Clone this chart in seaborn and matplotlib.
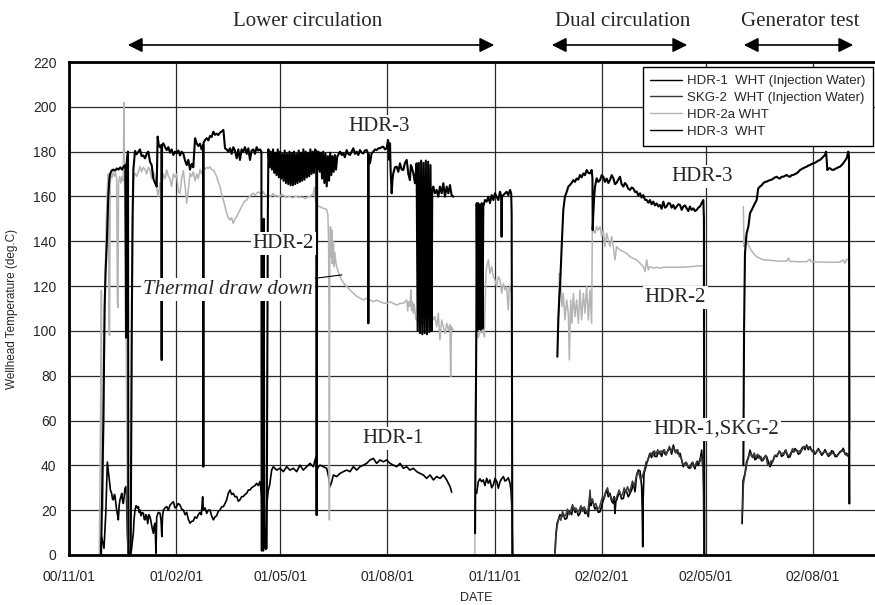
import numpy as np
import pandas as pd
import matplotlib
matplotlib.use('Agg')
import matplotlib.pyplot as plt
import matplotlib.dates as mdates
from matplotlib.lines import Line2D
from matplotlib.ticker import MultipleLocator
import seaborn as sns

# --- datos: (dias desde 2000-11-01, temperatura degC) ---
# (nan, nan) separa tramos sin registro
START = pd.Timestamp('2000-11-01')
GAP = (np.nan, np.nan)

hdr1 = [
    (26.5, 0.5), (28, 8), (30, 3), (31.5, 18), (32.9, 41.5), (34, 36), (34.6, 33.5), (35.5, 29),
    (36.6, 27.5), (37.3, 25), (38, 24.6), (39, 27), (39.5, 26), (40.4, 22), (40.9, 20), (41.6, 18),
    (42.3, 15.7), (43, 22), (43.7, 24.6), (44.5, 26), (45.2, 27.5), (46, 24), (46.6, 23), (47.3, 26),
    (48, 29.8), (48.9, 30.5), (49.3, 27), (50, 10), (50.5, 3.8), (51.5, 1), (52.3, 0.5), (53.5, 2),
    (55.2, 10), (55.8, 16), (56.6, 20), (57.5, 22), (58.5, 21), (59.5, 21.6), (60.2, 19), (60.9, 20),
    (61.8, 17.5), (62.7, 19), (63.8, 18.6), (64.5, 16), (65.2, 15.7), (65.9, 18), (66.6, 17.5),
    (67.5, 14), (68.5, 18), (69.5, 17), (70.3, 15), (71.3, 12), (72.3, 9.7), (73, 13), (73.8, 14.2),
    (74.6, 0.8), (75.2, 17), (76.6, 19), (78.1, 18.6), (79, 15), (79.6, 8.2), (80.2, 17), (80.9, 20),
    (82.3, 21), (83.8, 21.6), (85.2, 20), (86.6, 22.3), (88, 23), (89.5, 23.8), (90.9, 21),
    (92.3, 21.6), (93.7, 23), (95.2, 22.3), (96.6, 20.5), (98.1, 20.1), (99.5, 18), (100.9, 19),
    (102.3, 16), (103.8, 14.2), (105.2, 15), (106.6, 15.2), (108, 17), (109.5, 16.4), (110.9, 18),
    (112.3, 19), (113.5, 18), (114.6, 26), (115.2, 20), (116.6, 21), (118.1, 18.6), (119.5, 20),
    (120.9, 20.1), (122.3, 17.5), (123.8, 15.7), (125.2, 17), (126.6, 17.5), (128, 19.5),
    (129.5, 20.1), (130.9, 21.5), (132.4, 21.6), (133.8, 23), (135.2, 24.6), (136.6, 27.5),
    (138.1, 29), (139.5, 27), (140.9, 27.5), (142.3, 26), (143.8, 26.1), (145.2, 24), (146.6, 24.6),
    (148, 26), (149.5, 26.1), (150.9, 27), (152.4, 27.5), (153.8, 29), (155.2, 29), (156.6, 30),
    (158.1, 30.5), (159.5, 31), (160.9, 32), (162.3, 31), (163.8, 32.8), (164.5, 30), (165.2, 26),
    (165.8, 5), (166.5, 15), (167.2, 3), (168.1, 12), (168.8, 2.5), (169.5, 22), (170.9, 29),
    (172, 31), (173.8, 37.9), (175.2, 39.4), (178.1, 37.9), (181, 38.7), (183.8, 37.2), (186.7, 39.4),
    (189.5, 37.9), (192.4, 38.7), (195.2, 37.2), (198.1, 40.1), (200.9, 37.9), (203.8, 39.4),
    (206.7, 40.9), (209.5, 39.4), (211, 42.4), (212.1, 43.9), (212.4, 17.8), (212.7, 38),
    (213.8, 39.4), (215.3, 40.1), (218.1, 39.4), (221, 38.7), (222.6, 35), (223.8, 30.5),
    (225.3, 32.7), (226.7, 35.7), (229.6, 35), (232.4, 36.4), (235.3, 37.2), (238.1, 37.9),
    (241, 37.2), (243.8, 39.4), (246.7, 37.9), (249.6, 39.4), (252.4, 40.1), (255.3, 40.9),
    (258.1, 42.4), (261, 43.1), (263.8, 40.9), (266.7, 42.4), (269.6, 41.6), (272.4, 42.4),
    (275.3, 40.9), (278.2, 40.1), (281, 39.4), (283.9, 40.9), (286.7, 38.7), (289.6, 39.4),
    (292.4, 37.9), (295.3, 38.7), (298.2, 37.2), (301, 36.4), (303.9, 35.7), (306.7, 34.2),
    (309.6, 35.7), (312.5, 33.5), (315.3, 35), (318.2, 34.2), (321, 35.7), (323.9, 33.5),
    (326.8, 30.5), (328.2, 28),
    GAP,
    (349.6, 27.5), (351, 32.7), (352.4, 34), (353.9, 32.7), (355.3, 33.5), (356.7, 31), (358.2, 34.2),
    (359.6, 32), (361, 33.5), (362.5, 30), (363.9, 31.3), (365.3, 34.2), (366.7, 33), (368.2, 29.8),
    (369.6, 32.7), (371, 34), (372.5, 35), (373.9, 33), (375.3, 33.5), (376.7, 34.5), (378.2, 32),
    (379, 29), (379.6, 23), (380.5, 0),
    GAP,
    (416.8, 1), (417.5, 8), (418.5, 14), (419.6, 15.6), (421, 18), (422.5, 17), (423.9, 18.6),
    (425.3, 16), (426.8, 16.3), (428.2, 19.5), (429.6, 19.3), (431, 18), (432.5, 21.6), (434, 19),
    (435.4, 20.1), (436.8, 17.5), (438.2, 18.6), (439.6, 21), (441.1, 20.8), (442.5, 18.5),
    (443.9, 19.3), (445.4, 17.1), (446.8, 27.5), (447.5, 22), (448.2, 24.5), (449.6, 23), (451, 20.5),
    (452.5, 21.6), (453.9, 19), (455.4, 19.3), (456.8, 22), (458.2, 24.5), (459.6, 27), (461.1, 29),
    (462.5, 26), (463.9, 27.5), (465.4, 24), (466.8, 23), (467.5, 26), (468.2, 18.6), (469, 24),
    (469.7, 24.5), (471.1, 27), (472.5, 27.5), (473.9, 25), (475.4, 25.3), (476.8, 28.5),
    (478.2, 28.2), (479.6, 26), (481.1, 27.5), (482.5, 29), (483.9, 32), (485.4, 28.2), (486.8, 35.7),
    (488.2, 37.9), (489.7, 37.5), (491.1, 30.5), (491.6, 20), (492, 3.7), (492.4, 25), (493.1, 36.4),
    (494.3, 38.5), (495.4, 40.9), (496.8, 43), (498.2, 45.4), (499.6, 43.5), (501.1, 46.1), (502.5, 44),
    (504, 43.9), (505.4, 46), (506.8, 46.1), (508.2, 44), (509.7, 46.8), (511.1, 45), (512.5, 45.4),
    (514, 47), (515.4, 47.6), (516.8, 45), (518.3, 49.1), (519.7, 46), (521.1, 46.8), (522.5, 45),
    (524, 45.4), (525.4, 42.4), (526.8, 39.4), (528.2, 41), (529.7, 40.9), (531.1, 39), (532.5, 38.7),
    (534, 41), (535.4, 40.1), (536.8, 38.5), (538.3, 41.6), (539.7, 40), (541.1, 42.4), (542.6, 46.8),
    (543.3, 40), (544, 39.4), (544.6, 0.7), (545.2, 0.5),
    GAP,
    (577.2, 14), (578, 33), (579.7, 36.4), (581.1, 41.6), (582.5, 43), (584, 46.8), (585.5, 44),
    (586.9, 44.6), (588.3, 42.5), (589.7, 43.1), (591.1, 44.5), (592.6, 43.9), (594, 42), (595.4, 42.4),
    (596.8, 44), (598.3, 43.9), (599.7, 41.5), (601.2, 39.4), (602.6, 41), (604, 42.4), (605.5, 44.5),
    (606.9, 43.9), (608.3, 45.5), (609.7, 46.1), (611.1, 44), (612.6, 44.6), (614, 46.5), (615.4, 45.4),
    (616.8, 43.5), (618.3, 43.9), (619.7, 46), (621.2, 46.1), (622.6, 47.5), (624, 46.8), (625.5, 45),
    (626.9, 45.4), (628.3, 47.5), (629.7, 48.3), (631.1, 47), (632.6, 49.1), (634, 47), (635.5, 48.3),
    (636.9, 46.5), (638.3, 46.8), (639.7, 45), (641.2, 46.1), (642.6, 47.5), (644, 46.1), (645.5, 44.5),
    (646.9, 45.4), (648.3, 47), (649.8, 45.4), (651.2, 44), (652.6, 44.6), (654, 46.5), (655.5, 46.1),
    (656.9, 44), (658.3, 43.9), (659.7, 45), (661.2, 46.1), (662.6, 46.5), (664, 47.6), (665.5, 45),
    (666.9, 45.4), (668.3, 43.9), (669, 45), (669.2, 23),
]

skg2 = [
    (416.8, 0.5), (417.6, 10), (418.8, 13.5), (420.2, 17), (421.8, 15.5), (423.2, 19.5), (424.6, 17),
    (426.1, 18), (427.5, 20.5), (429, 18), (430.4, 20), (431.8, 22.5), (433.2, 20), (434.7, 21),
    (436.1, 19), (437.5, 20), (439, 22), (440.4, 19.5), (441.8, 21.5), (443.2, 20), (444.7, 18.5),
    (446.1, 24), (446.8, 29), (447.5, 23.5), (448.9, 25), (450.3, 22), (451.8, 23), (453.2, 20.5),
    (454.7, 21), (456.1, 23.5), (457.5, 26), (459, 25), (460.4, 28.5), (461.8, 30), (463.2, 27),
    (464.7, 26), (466.1, 24.5), (467.5, 25.5), (469, 25), (470.4, 27), (471.8, 29), (473.2, 26.5),
    (474.7, 27), (476.1, 30), (477.5, 28), (479, 30.5), (480.4, 28), (481.8, 30), (483.2, 33),
    (484.7, 30.5), (486.1, 34), (487.5, 37), (489, 36), (490.4, 33), (491.8, 35.5), (493.5, 38),
    (494.9, 41.5), (496.3, 42), (497.7, 44.5), (499.2, 45.5), (500.6, 44), (502, 46.5), (503.4, 45),
    (504.9, 47), (506.3, 45), (507.7, 46.5), (509.2, 45.5), (510.6, 47), (512, 44.5), (513.4, 46.5),
    (514.9, 48.5), (516.3, 46), (517.7, 48), (519.2, 47), (520.6, 45.5), (522, 47), (523.4, 44),
    (524.9, 43.5), (526.3, 40.5), (527.7, 40), (529.2, 41.5), (530.6, 39.5), (532, 40), (533.4, 39),
    (534.9, 41.5), (536.3, 39.5), (537.7, 40.5), (539.2, 42), (540.6, 41), (542, 44), (543.5, 41.5),
    (544.3, 30), (544.8, 0.5),
    GAP,
    (577.5, 18), (578.4, 32), (580.4, 38), (581.8, 42.5), (583.3, 45), (584.7, 45.5), (586.1, 43.5),
    (587.6, 45.5), (589, 43.5), (590.4, 45), (591.9, 43), (593.3, 44), (594.7, 42.5), (596.2, 43.5),
    (597.6, 44.5), (599, 40.5), (600.5, 40), (601.9, 42), (603.3, 41.5), (604.8, 44), (606.2, 44.5),
    (607.6, 44.5), (609, 46.5), (610.5, 45), (611.9, 45.5), (613.3, 45), (614.8, 47), (616.2, 44.5),
    (617.6, 44.5), (619.1, 45.5), (620.5, 47.5), (621.9, 46), (623.4, 47), (624.8, 46), (626.2, 46.5),
    (627.7, 46), (629.1, 47.5), (630.5, 48.5), (632, 48), (633.4, 48.5), (634.8, 47.5), (636.3, 47.5),
    (637.7, 46), (639.1, 46), (640.6, 45.5), (642, 47), (643.4, 46.5), (644.9, 45.5), (646.3, 45.5),
    (647.7, 46), (649.2, 46), (650.6, 44.5), (652, 45.5), (653.4, 45), (654.9, 45.5), (656.3, 45),
    (657.7, 44.5), (659.2, 44.5), (660.6, 45.5), (662, 46), (663.4, 46.5), (664.9, 46), (666.3, 44.5),
    (667.7, 45), (668.9, 44), (669.2, 23),
]

hdr2a = [
    (26, 0), (27, 60), (27.8, 118), (28.3, 40), (29, 20), (30, 80), (31, 120), (32, 150), (33, 165),
    (33.7, 170), (34.3, 100), (34.8, 98), (35.3, 165), (36, 170), (37, 168.5), (38, 171), (39, 169),
    (40, 170.5), (40.9, 168), (41.5, 112), (42, 110.5), (42.5, 166), (43.5, 169), (44.5, 166),
    (45.5, 168.8), (46.5, 167), (47.2, 202), (47.6, 165), (48.5, 140), (49.5, 60), (50.5, 0),
    (52.5, 0), (53.5, 60), (54.5, 140), (55.5, 168), (56.6, 170.3), (58, 169), (59.5, 171),
    (60.9, 173.3), (62.3, 171), (63.7, 173), (65.2, 172), (66.6, 170), (68, 173), (69.5, 171.8),
    (70.9, 168), (72.3, 171), (73.8, 169), (75.2, 164), (76.6, 160), (78, 166), (78.8, 164), (79.2, 88),
    (79.6, 165), (80.9, 170), (82.4, 168), (83.8, 171.8), (85.2, 169), (86.6, 168), (88, 164.4),
    (89.5, 170), (90.9, 168.5), (92.3, 170), (93.8, 162), (95.2, 161.4), (96.6, 168), (98.1, 171.5),
    (99.5, 165), (100.9, 157), (102.3, 163), (103.8, 170.3), (105.2, 169), (106.6, 171), (108.1, 167),
    (109.5, 170), (110.9, 168), (112.3, 172), (113.8, 170), (115.2, 173.3), (116.6, 172), (118.1, 173),
    (119.5, 172.5), (120.9, 173.3), (122.3, 172), (123.8, 171.8), (125.2, 170.5), (126.6, 168.8),
    (128, 166.5), (129.5, 164.4), (130.9, 161), (132.4, 158.4), (133.8, 155.5), (135.2, 152.5),
    (136.6, 150.5), (138.1, 149.5), (139.5, 150.5), (140.9, 148), (142.3, 150), (143.8, 151),
    (145.2, 152.5), (146.6, 154), (148, 155.5), (149.5, 156.9), (150.9, 158), (152.4, 158.4),
    (153.8, 159.5), (155.2, 160), (156.6, 161), (158.1, 161.4), (159.5, 160.5), (160.9, 161.4),
    (162.3, 162), (163.8, 161.4), (165.2, 161.4), (166.7, 162.1), (168.1, 160.5), (169.5, 160.5),
    (170.9, 161), (172.4, 160), (173.8, 160.5), (175.2, 161.4), (176.6, 160), (178.1, 160.5),
    (179.5, 160), (181, 160), (182.4, 161), (183.8, 160.5), (185.2, 160), (186.7, 159.5), (188.1, 160),
    (189.5, 160), (191, 159.5), (192.4, 159.5), (193.8, 160), (195.2, 160), (196.7, 159.5),
    (198.1, 159.9), (199.5, 159.5), (200.9, 159.7), (202.3, 159), (203.8, 159.3), (205.2, 160),
    (206.7, 159.9), (208.1, 160.6), (209.5, 161), (210.5, 164), (211.5, 158), (212.4, 157),
    (213.8, 155.5), (215.3, 155.5), (216.7, 155), (218.1, 154.7), (219.5, 154.5), (221, 154),
    (222, 152), (222.6, 140), (223, 110), (223.3, 15.6), (223.6, 130), (224.2, 146.5), (224.8, 133),
    (225.3, 145), (225.8, 130), (226.7, 140), (227.4, 128.7), (228, 135), (229, 130), (229.6, 128.7),
    (230.5, 127), (232.4, 124.2), (235.2, 121.5), (238.1, 119.8), (241, 118.3), (243.8, 116.8),
    (246.7, 115.5), (249.5, 114.6), (252.4, 113.8), (255.3, 114.6), (258.1, 113.8), (261, 113),
    (263.8, 113.8), (266.7, 113), (269.5, 112.5), (272.4, 112.3), (275.3, 113), (278.1, 112.3),
    (281, 111.5), (283.8, 112.3), (286.7, 112.3), (289.6, 113.8), (290.5, 109), (291.2, 113),
    (292.4, 110.8), (293.2, 118.3), (293.8, 109), (294.5, 113), (295.3, 107.9), (296, 112),
    (296.7, 109), (297.5, 105), (298.1, 104.9), (300, 104), (302, 103), (304, 104), (306, 102),
    (308, 103), (310, 101), (311, 107.9), (312.4, 104.9), (313.8, 106.4), (315.3, 101.9), (316.7, 107.9),
    (318.1, 96), (319.6, 104.9), (321, 101.9), (322.4, 98.9), (323.9, 103.4), (325.3, 100.4),
    (326.7, 103), (327.3, 79.6), (327.9, 102), (328.6, 101), (329.6, 100.4),
    GAP,
    (348, 0), (348.6, 60), (349.3, 100.4), (351, 97), (352.4, 100), (353.9, 99), (355.3, 100.4),
    (356.3, 97.4), (356.7, 110), (357.5, 125), (358.2, 128.7), (359.6, 131.7), (361, 125.6),
    (362.5, 128.7), (363.9, 124.2), (365.3, 122.7), (366.7, 119.8), (368.2, 124.2), (369.6, 122.7),
    (371, 116.8), (372.5, 121.2), (373.9, 118.3), (375.3, 119.8), (376.7, 109.3), (377.5, 119),
    (378.2, 119.8), (379.6, 116.8), (380.2, 0),
    GAP,
    (419.6, 102), (420.5, 125.7), (421.6, 121.2), (422.8, 110.8), (423.9, 116.8), (425.3, 104.9),
    (426.8, 113.8), (428.2, 107.9), (429.1, 87), (430.2, 113.8), (431.3, 103.4), (432.5, 116.8),
    (433.9, 106.4), (435.3, 113.8), (436.8, 103.4), (438.2, 118.3), (439.6, 104.9), (441.1, 116.8),
    (442.5, 107.9), (443.9, 119.8), (445.4, 104.9), (446.8, 118.3), (448.2, 103.4), (448.8, 146.5),
    (449.6, 145), (451.1, 143.6), (452.5, 146.5), (453.9, 145), (455.4, 146.5), (456.8, 142.1),
    (458.2, 145), (459.6, 137.6), (461.1, 143.6), (462.5, 140.6), (463.9, 137.6), (465.4, 142.1),
    (466.8, 137.6), (468.2, 131.7), (469.6, 137.6), (472.5, 136.1), (475.4, 135.4), (478.2, 134.6),
    (481.1, 133.1), (483.9, 132.4), (486.8, 131.7), (489.7, 130.2), (492.5, 128.7), (494, 126.5),
    (495.4, 131.7), (496.8, 127.2), (498.2, 128.7), (501.1, 128), (504, 128.4), (506.8, 128),
    (509.7, 128.4), (512.5, 128.4), (515.4, 128.4), (518.2, 128.4), (521.1, 128.4), (524, 128.4),
    (526.8, 128.5), (529.7, 128.5), (532.5, 128.7), (535.4, 128.7), (538.3, 129), (541.1, 129),
    (544, 129), (544.6, 60), (544.9, 0),
    GAP,
    (578.3, 155.5), (578.9, 137.6), (579.7, 142.1), (581.1, 139.8), (582.6, 138.5), (584, 136.9),
    (586.9, 134.6), (589.7, 133.1), (592.6, 132.4), (595.4, 131.7), (598.3, 131.7), (601.2, 131.5),
    (604, 131.4), (606.9, 131.2), (609.7, 131.1), (612.6, 131.2), (615.4, 131.1), (616.9, 132.5),
    (618.3, 131), (621.2, 131), (624, 130.9), (626.9, 130.9), (629.7, 130.9), (632.6, 130.9),
    (635.5, 132), (636.5, 130.8), (638.3, 130.9), (641.2, 130.8), (644, 130.7), (646.9, 130.7),
    (649.8, 130.6), (652.6, 130.7), (655.5, 130.6), (658.3, 130.7), (661.2, 130.7), (664, 131.7),
    (665.5, 130.2), (666.9, 132), (668.3, 131.7), (669.2, 131), (669.8, 55.8),
]

hdr3 = [
    (27.5, 0), (29.5, 60), (30.5, 110), (31.4, 127), (32.5, 140), (33.7, 160), (34.5, 167), (35.2, 170),
    (36.5, 171.5), (38, 172), (39.5, 171.5), (41, 172.5), (42.5, 172), (44, 173), (45.5, 172),
    (47, 173.5), (48.3, 174), (48.9, 97), (49.3, 174), (50, 178), (50.6, 180), (50.9, 0), (52.9, 0),
    (53.8, 100), (54.5, 150), (55.2, 172), (56.6, 180.3), (58, 178.8), (59.5, 180), (60.9, 181),
    (62.3, 178), (63.7, 178.3), (65.2, 177), (66.6, 179), (68, 180), (69.5, 175.4), (70.9, 174),
    (72.3, 168), (73.8, 166), (75.2, 164.4), (76, 186.7), (77, 183), (78, 182), (79.2, 183), (79.5, 87),
    (79.8, 183), (80.9, 183.7), (82.4, 182), (83.8, 180.7), (85.2, 182), (86.6, 179.5), (88, 181),
    (89.5, 178.5), (90.9, 180), (92.3, 179.2), (93.8, 180.5), (95.2, 178.3), (96.6, 180), (98.1, 179),
    (99.5, 176), (100.9, 174), (102.3, 176.3), (103.8, 172), (105.2, 174.5), (106.6, 173), (108.1, 186),
    (109.5, 183.7), (110.9, 182.5), (112.3, 183.5), (113.7, 181), (115, 183), (115.2, 39.4),
    (115.4, 184), (116.7, 185.2), (118.1, 186), (119.5, 185), (120.9, 187), (122.3, 186.5),
    (123.8, 188.9), (125.2, 187.5), (126.6, 188), (128, 187.4), (129.5, 188.5), (130.9, 189),
    (132.4, 189.7), (133.8, 181.5), (135.2, 181), (136.6, 180), (138.1, 181.5), (139.5, 179),
    (140.9, 182), (142.3, 180.5), (143.8, 177), (145.2, 181), (146.6, 176.3), (148, 181), (149.5, 180),
    (150.9, 182), (152.4, 179), (153.8, 181.5), (155.2, 176.3), (156.6, 180.5), (158.1, 181),
    (159.5, 179), (160.9, 182), (162.3, 180.5), (163.8, 181), (165, 180), (165.2, 2), (166.7, 2),
    (167, 150), (167.5, 5), (169.5, 3), (170.5, 150), (171, 181),
    (172, 173), (173, 180), (174, 172), (175, 181), (176, 170.5), (177, 179.5), (178, 169.5), (179, 181),
    (180, 168.5), (181, 180), (182, 168), (183, 179), (184, 167), (185, 180.5), (186, 166), (187, 179),
    (188, 165.5), (189, 180), (190, 165), (191, 179.5), (192, 165), (193, 180), (194, 165.5), (195, 179),
    (196, 166), (197, 180.5), (198, 166.5), (199, 179.5), (200, 167), (201, 181), (202, 167.5),
    (203, 180), (204, 168.5), (205, 179.5), (206, 169), (207, 181), (208, 170), (209, 180), (210, 170.5),
    (211, 181), (212, 180), (212.4, 17.8), (212.8, 180),
    (213, 172), (214, 180), (215, 171), (216, 179.5), (217, 168), (218, 180), (219, 166), (220, 179),
    (221, 164.5), (222, 178), (223, 167), (224, 179.5), (225, 169.5), (226, 178), (227, 171),
    (228, 178.5), (229, 172), (230, 177.8),
    (232.4, 180), (233.8, 178.5), (235.2, 179.2), (236.6, 177.5), (238.1, 180.7), (239.5, 179),
    (241, 178.5), (242.4, 180), (243.8, 181.5), (245.3, 179), (246.7, 180), (248.1, 178.5),
    (249.5, 180.7), (251, 179.5), (252.4, 179.2), (253.8, 180.5), (255.3, 180.7), (256.5, 179),
    (256.7, 103.4), (256.9, 179), (258.1, 174.8), (259.5, 179.2), (261, 180), (262.4, 181),
    (263.8, 180.7), (265.3, 181.5), (266.7, 181.5), (268.1, 182), (269.5, 182.2), (271, 181),
    (272.4, 181.5), (273.6, 185.2), (274.2, 183), (274.7, 176.3), (275.3, 183.7), (275.8, 171.8),
    (276.7, 161.4), (277.5, 168), (278.1, 170.3), (279.5, 173), (281, 173.3), (282.4, 171),
    (283.8, 174.8), (285.3, 172), (286.7, 171.8), (288.1, 175), (289.6, 176.3), (291, 170),
    (292.4, 167.3), (293.1, 174), (293.8, 173.3), (295.3, 170.3), (296.7, 165.9), (298.1, 174.8),
    (299, 100), (300, 175), (301, 99), (302, 176), (303, 98.5), (304, 175), (305, 99), (306, 176),
    (307, 98.5), (308, 175.5), (309, 99.5), (310, 174), (311, 100),
    (311.5, 162.9), (312.4, 164.4), (313.8, 161.4), (315.3, 162.9), (316.7, 159.9), (318.1, 164.4),
    (319.6, 161.4), (321, 165.9), (322.4, 159.9), (323.9, 164.4), (325.3, 161.4), (326.7, 165.1),
    (328.1, 160.6), (329.6, 159.9),
    GAP,
    (348.2, 9.7), (348.8, 60), (349.3, 100), (349.6, 157), (350.3, 100.4), (351, 157), (351.7, 101),
    (352.4, 156), (353.1, 100.5), (353.9, 157), (354.6, 101), (355.3, 155.5), (356.7, 158.4),
    (358.2, 157.7), (359.6, 159.9), (361, 157), (362.5, 160.6), (363.9, 158.4), (365.3, 161.4),
    (366.7, 159.9), (368.2, 158.4), (369.6, 162.1), (370.8, 160), (371, 142), (371.2, 160),
    (372.5, 160.6), (373.9, 161.4), (375.3, 162.1), (376.7, 160.6), (378.2, 162.9), (379.2, 161.5),
    (379.6, 152.5), (380.2, 0),
    GAP,
    (418.8, 88.5), (419.6, 105), (420.5, 115), (421.1, 119.8), (422.5, 137.6), (423.9, 154),
    (425.3, 159.9), (426.8, 162), (428.2, 164.4), (429.6, 165.1), (431, 166), (432.5, 167.3),
    (433.9, 166.5), (435.3, 168), (436.8, 167.5), (438.2, 169.6), (439.6, 168.5), (441.1, 170.3),
    (442.5, 169.5), (443.9, 171.8), (445.4, 170.5), (446.8, 170.3), (448.2, 171.8), (448.9, 168),
    (449.1, 145), (449.6, 152), (450.2, 158.4), (451.1, 164.4), (452.5, 168.1), (453.9, 166.5),
    (455.4, 167.3), (456.8, 169.5), (458.2, 168.8), (459.6, 166.5), (461.1, 168), (462.5, 166),
    (463.9, 167.3), (465.4, 169.5), (466.8, 168.2), (468.2, 165.5), (469.6, 166.1), (471, 167.5),
    (472.5, 168.8), (473.9, 165.5), (475.4, 164.4), (476.8, 166), (478.2, 165.1), (479.6, 163.5),
    (481.1, 162.9), (482.5, 164), (483.9, 163.6), (485.4, 162), (486.8, 162.2), (488.2, 160.5),
    (489.7, 161.4), (491.1, 159.5), (492.5, 160.6), (494, 158.5), (495.4, 158.4), (496.8, 157.2),
    (498.2, 158.4), (499.6, 156.5), (501.1, 157.7), (502.5, 156), (504, 156.9), (505.4, 155.5),
    (506.8, 156.2), (508.2, 154.5), (509.7, 157.7), (511.1, 155), (512.5, 155.5), (513.9, 157),
    (515.4, 156.9), (516.8, 155), (518.2, 156.2), (519.6, 154.5), (521.1, 155.5), (522.5, 156.5),
    (524, 156.2), (525.4, 154), (526.8, 155.5), (528.2, 156), (529.7, 154.7), (531.1, 153.5),
    (532.5, 155.5), (533.9, 154), (535.4, 154.7), (536.8, 153.5), (538.3, 154), (539.7, 155),
    (541.1, 155.5), (542.5, 157), (544, 158.4), (544.5, 150), (544.8, 0),
    GAP,
    (578.3, 40), (578.9, 100), (579.7, 134.6), (581.1, 143.6), (582.6, 146.5), (584, 152.5),
    (585.5, 154), (586.9, 155.5), (588.3, 157), (589.7, 158.4), (591.1, 163.6), (592.6, 164.4),
    (594, 165), (595.4, 165.9), (596.8, 166.5), (598.3, 166.6), (599.7, 167), (601.2, 167.3),
    (602.6, 167.5), (604, 168), (605.5, 168.5), (606.9, 168.8), (608.3, 168.2), (609.7, 168),
    (611.1, 168.8), (612.6, 168.8), (614, 169.2), (615.4, 169.6), (616.9, 169), (618.3, 168.8),
    (619.7, 169.5), (621.2, 169.6), (622.6, 170), (624, 170.3), (625.5, 171), (626.9, 171.8),
    (628.3, 172.2), (629.7, 172.6), (631.2, 173), (632.6, 173.3), (634, 173.8), (635.5, 174),
    (636.9, 174.5), (638.3, 174.8), (639.7, 175), (641.2, 175.5), (642.6, 176), (644, 176.3),
    (645.5, 177), (646.9, 177.8), (648.3, 178.5), (649.2, 180), (649.8, 176), (650.3, 171.8),
    (651.5, 172.5), (652.6, 172.6), (654, 172), (655.5, 171.8), (656.9, 172.3), (658.3, 172.6),
    (659.7, 173), (661.2, 173.3), (662.6, 174), (664, 174.8), (665.5, 176), (666.9, 177), (668.3, 180),
    (668.9, 178), (669.2, 23),
]

legend_labels = ['HDR-1  WHT (Injection Water)', 'SKG-2  WHT (Injection Water)',
                 'HDR-2a WHT', 'HDR-3  WHT']
series_colors = ['#000000', '#3a3a3a', '#b4b4b4', '#000000']
series_lw = [1.2, 1.1, 1.1, 1.5]

W, H = 875, 605


def to_frame(pairs):
    arr = np.array(pairs, dtype=float)
    seg = np.isnan(arr[:, 1]).cumsum()
    keep = ~np.isnan(arr[:, 1])
    return pd.DataFrame({
        'date': START + pd.to_timedelta(arr[keep, 0], unit='D'),
        'temp': arr[keep, 1],
        'seg': seg[keep],
    })


sns.set_theme(style='white')
sans = ['Liberation Sans', 'DejaVu Sans']
serif = ['Liberation Serif', 'DejaVu Serif']
plt.rcParams['font.family'] = sans

fig = plt.figure(figsize=(W / 100, H / 100), dpi=100)
ax = fig.add_axes([69 / W, 50 / H, (W - 69) / W, 493 / H])

for pairs, col, lw in zip([hdr1, skg2, hdr2a, hdr3], series_colors, series_lw):
    sns.lineplot(data=to_frame(pairs), x='date', y='temp', units='seg', estimator=None,
                 sort=False, color=col, lw=lw, ax=ax, legend=False)

ax.set_xlim(START, START + pd.Timedelta(days=691.2))
ax.set_ylim(0, 220)
ax.yaxis.set_major_locator(MultipleLocator(20))
ax.yaxis.set_minor_locator(MultipleLocator(10))
ax.xaxis.set_major_locator(mdates.MonthLocator(bymonth=[2, 5, 8, 11]))
ax.xaxis.set_minor_locator(mdates.MonthLocator())
ax.xaxis.set_major_formatter(mdates.DateFormatter('%y/%m/%d'))

ax.grid(True, which='major', color='#2a2a2a', lw=0.9)
ax.set_axisbelow(True)
ax.tick_params(which='major', direction='in', length=8, width=1.6, color='black',
               labelsize=10, pad=9)
ax.tick_params(which='minor', direction='in', length=4.5, width=1.6, color='black')
ax.tick_params(axis='x', which='major', pad=11)
for s in ['left', 'bottom', 'top']:
    ax.spines[s].set_linewidth(2)
    ax.spines[s].set_color('black')
ax.spines['right'].set_visible(False)

ax.set_ylabel('Wellhead Temperature (deg.C)', fontsize=8.5)
ax.yaxis.set_label_coords(-0.063, 0.5)
ax.set_xlabel('DATE', fontsize=9)
ax.xaxis.set_label_coords(0.505, -0.076)

# leyenda
handles = [Line2D([0], [0], color=c, lw=1.0) for c in series_colors]
leg = fig.legend(handles, legend_labels, loc='upper right', bbox_to_anchor=(873 / W, 1 - 67 / H),
                 frameon=True, fancybox=False, framealpha=1, edgecolor='black', fontsize=9.5,
                 handlelength=2.4, handletextpad=0.35, labelspacing=0.35, borderpad=0.6,
                 borderaxespad=0)
leg.get_frame().set_linewidth(1.0)


def day(d):
    return START + pd.Timedelta(days=d)


box = dict(facecolor='white', edgecolor='none', pad=1.5)
labels = [
    ('HDR-3', 266, 191), ('HDR-2', 184, 139), ('HDR-1', 278, 52),
    ('HDR-3', 543, 169), ('HDR-2', 520, 115), ('HDR-1,SKG-2', 555, 56),
]
for txt, d, v in labels:
    ax.text(day(d), v, txt, family=serif, fontsize=15, ha='center', va='center',
            bbox=box, zorder=5)

ax.annotate('Thermal draw down', xy=(day(234), 125), xytext=(day(136), 118.5),
            family=serif, style='italic', fontsize=15, ha='center', va='center',
            bbox=box, zorder=5,
            arrowprops=dict(arrowstyle='-', color='black', lw=0.8, shrinkA=0, shrinkB=0))

# periodos de operacion (arriba)
periods = [('Lower circulation', 125, 497, 308), ('Dual circulation', 549, 690, 623),
           ('Generator test', 741, 856, 800)]
for txt, x0, x1, xc in periods:
    fig.text(xc / W, 1 - 21 / H, txt, family=serif, fontsize=15, ha='center', va='center')
    fig.patches.append(matplotlib.patches.FancyArrowPatch(
        (x0 / W, 1 - 45 / H), (x1 / W, 1 - 45 / H), transform=fig.transFigure,
        arrowstyle='<|-|>', mutation_scale=22, color='black', lw=1.2))

fig.savefig('out.png', dpi=100)
